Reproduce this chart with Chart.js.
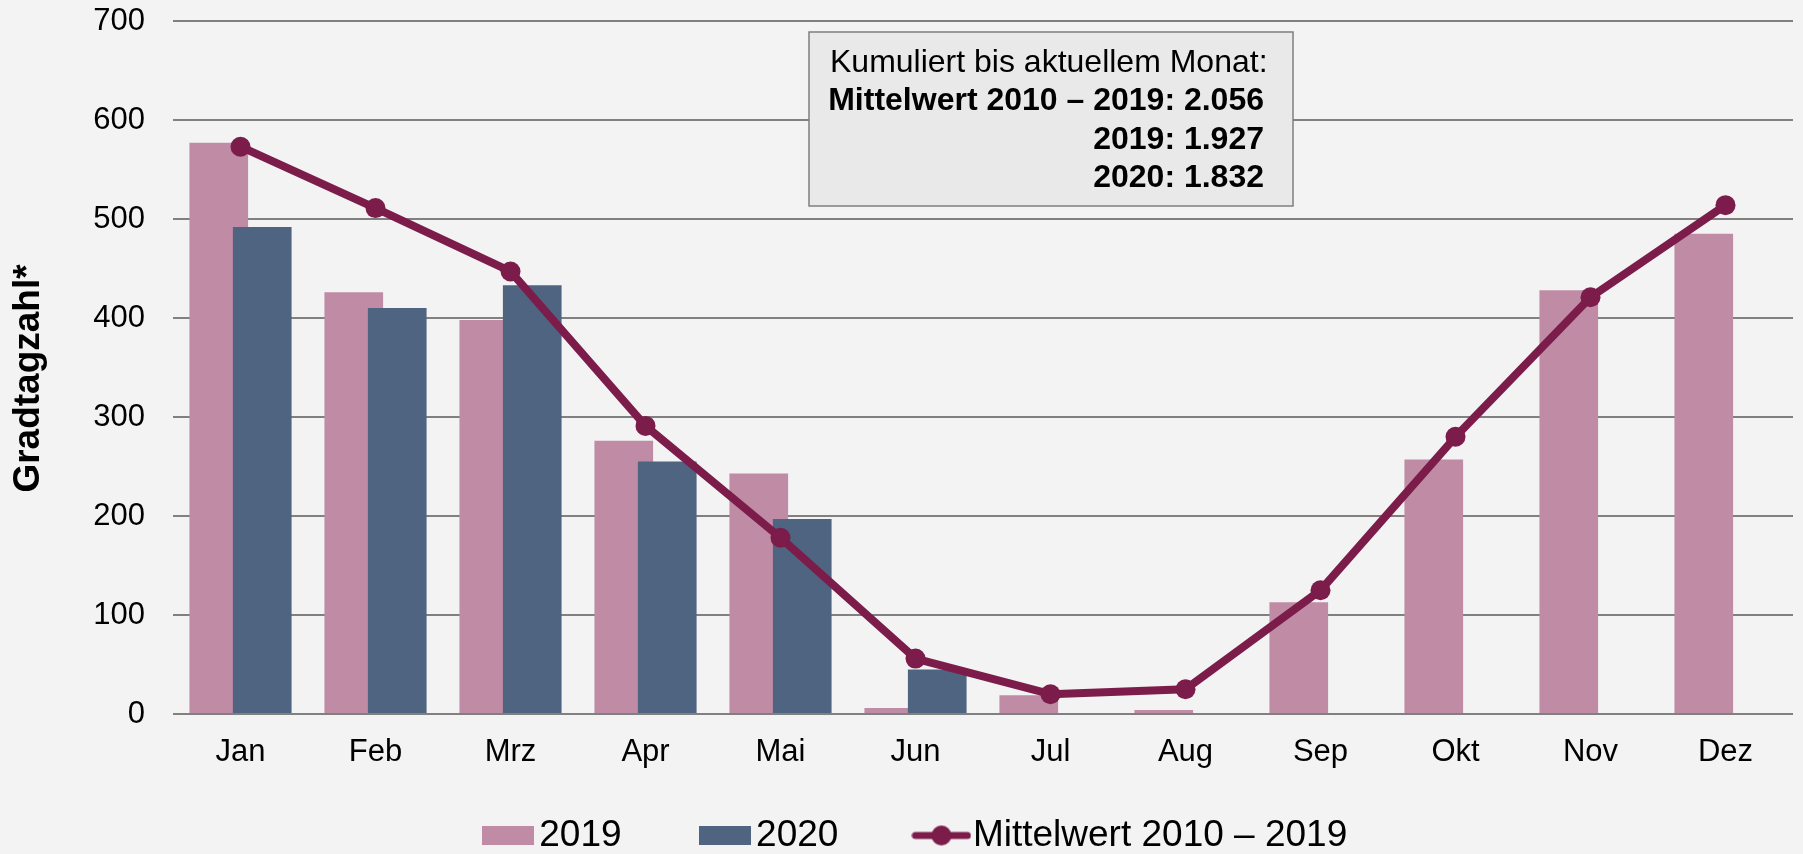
<!DOCTYPE html>
<html>
<head>
<meta charset="utf-8">
<script src="https://cdn.jsdelivr.net/npm/chart.js@4/dist/chart.umd.min.js"></script>
<style>
html,body{margin:0;padding:0;background:#F3F3F3;}
canvas{display:block;}
</style>
</head>
<body>
<canvas id="c" width="1803" height="854" style="width:1803px;height:854px"></canvas>
<script>
// ---- data ----
const months = ['Jan','Feb','Mrz','Apr','Mai','Jun','Jul','Aug','Sep','Okt','Nov','Dez'];
const values2019 = [577,426,398,276,243,6,19,4,113,257,428,485];
const values2020 = [492,410,433,255,197,45,null,null,null,null,null,null];
const mittelwert = [573,511,447,291,178,56,20,25,125,280,421,514];
const yTicks = [0,100,200,300,400,500,600,700];
const seriesLabels = ['2019','2020','Mittelwert 2010 \u2013 2019'];
const axisTitle = 'Gradtagzahl*';
const boxTitle = 'Kumuliert bis aktuellem Monat:';
const boxLines = ['Mittelwert 2010 \u2013 2019: 2.056','2019: 1.927','2020: 1.832'];

// ---- styles ----
const FONT = "'Liberation Sans', Arial, Helvetica, sans-serif";
const pink = '#BF8BA5';
const blue = '#4F6480';
const maroon = '#7C1C4A';
const grid = '#808080';

Chart.defaults.font.family = FONT;
Chart.defaults.color = '#000';

function makeRectMarker(color){
  const c = document.createElement('canvas');
  c.width = 52; c.height = 19;
  const g = c.getContext('2d');
  g.fillStyle = color; g.fillRect(0,0,52,19);
  return c;
}
function makeLineMarker(color){
  const c = document.createElement('canvas');
  c.width = 60; c.height = 22;
  const g = c.getContext('2d');
  g.strokeStyle = color; g.lineWidth = 7; g.lineCap = 'round';
  g.beginPath(); g.moveTo(4,11); g.lineTo(56,11); g.stroke();
  g.fillStyle = color;
  g.beginPath(); g.arc(30,11,10,0,Math.PI*2); g.fill();
  return c;
}

// draw 2020 bars directly after 2019 bars (so they sit on top), line stays on top of all
const layerPlugin = {
  id: 'layerFix',
  beforeDatasetDraw(chart, args){
    if (args.index === 1 && !chart.$layerDraw) return false;
  },
  afterDatasetDraw(chart, args){
    if (args.index === 0){
      chart.$layerDraw = true;
      chart.getDatasetMeta(1).controller.draw();
      chart.$layerDraw = false;
    }
  }
};

// nudge the rotated y-axis title slightly downward (title is centred on scale top/bottom)
const titleNudge = {
  id: 'titleNudge',
  afterLayout(chart){
    chart.scales.y.bottom += 22;
  }
};

const boxPlugin = {
  id: 'infoBox',
  afterDraw(chart){
    const ctx = chart.ctx;
    const ca = chart.chartArea;
    const left = ca.left + 636, top = ca.top + 11, w = 484, h = 174;
    ctx.save();
    ctx.fillStyle = '#E9E9E9';
    ctx.fillRect(left, top, w, h);
    ctx.strokeStyle = '#7F7F7F';
    ctx.lineWidth = 1.5;
    ctx.strokeRect(left, top, w, h);
    ctx.fillStyle = '#000';
    ctx.textBaseline = 'alphabetic';
    ctx.font = "32px " + FONT;
    ctx.textAlign = 'left';
    ctx.fillText(boxTitle, left + 21, top + 40);
    ctx.font = "bold 32px " + FONT;
    ctx.textAlign = 'right';
    boxLines.forEach((t,i) => ctx.fillText(t, left + w - 29, top + 40 + 38.4*(i+1)));
    ctx.restore();
  }
};

const markers = [makeRectMarker(pink), makeRectMarker(blue), makeLineMarker(maroon)];

new Chart(document.getElementById('c'), {
  data: {
    labels: months,
    datasets: [
      { type:'bar', label: seriesLabels[0], data: values2019, backgroundColor: pink, borderWidth:0,
        order:1, categoryPercentage:0.644, barPercentage:1.35 },
      { type:'bar', label: seriesLabels[1], data: values2020, backgroundColor: blue, borderWidth:0,
        order:1, categoryPercentage:0.644, barPercentage:1.35 },
      { type:'line', label: seriesLabels[2], data: mittelwert, borderColor: maroon, backgroundColor: maroon,
        borderWidth:8, borderJoinStyle:'round', pointRadius:10, pointHoverRadius:10, pointBorderWidth:0,
        pointBackgroundColor: maroon, tension:0, order:0 }
    ]
  },
  options: {
    responsive:false,
    animation:false,
    devicePixelRatio:1,
    layout:{ padding:{ left:41, right:2, top:21, bottom:-10 } },
    scales:{
      x:{
        grid:{ display:false, drawTicks:false },
        border:{ display:false },
        ticks:{ font:{ size:31 }, color:'#000', padding:20, maxRotation:0 },
        afterFit(s){ s.height = 58; }
      },
      y:{
        min:0, max:700,
        afterBuildTicks(s){ s.ticks = yTicks.map(v => ({value:v})); },
        grid:{ color:grid, lineWidth:2, drawTicks:true, tickLength:28, tickColor:'rgba(0,0,0,0)' },
        border:{ display:false },
        ticks:{ font:{ size:31 }, color:'#000', padding:0 },
        title:{ display:true, text:axisTitle, color:'#000', font:{ size:37, weight:'bold' }, padding:{ top:-34.8, bottom:0 } },
        afterFit(s){ s.width = 132; }
      }
    },
    plugins:{
      tooltip:{ enabled:false },
      legend:{
        position:'bottom',
        title:{ display:true, text:'', font:{ size:10 }, padding:{ top:-57, bottom:0 } },
        labels:{
          usePointStyle:true, pointStyleWidth:26,
          font:{ size:37 }, color:'#000', padding:90,
          sort:(a,b) => a.datasetIndex - b.datasetIndex,
          generateLabels(chart){
            const items = Chart.defaults.plugins.legend.labels.generateLabels(chart);
            items.forEach(it => { it.pointStyle = markers[it.datasetIndex]; });
            return items;
          }
        }
      }
    }
  },
  plugins:[layerPlugin, titleNudge, boxPlugin]
});
</script>
</body>
</html>
